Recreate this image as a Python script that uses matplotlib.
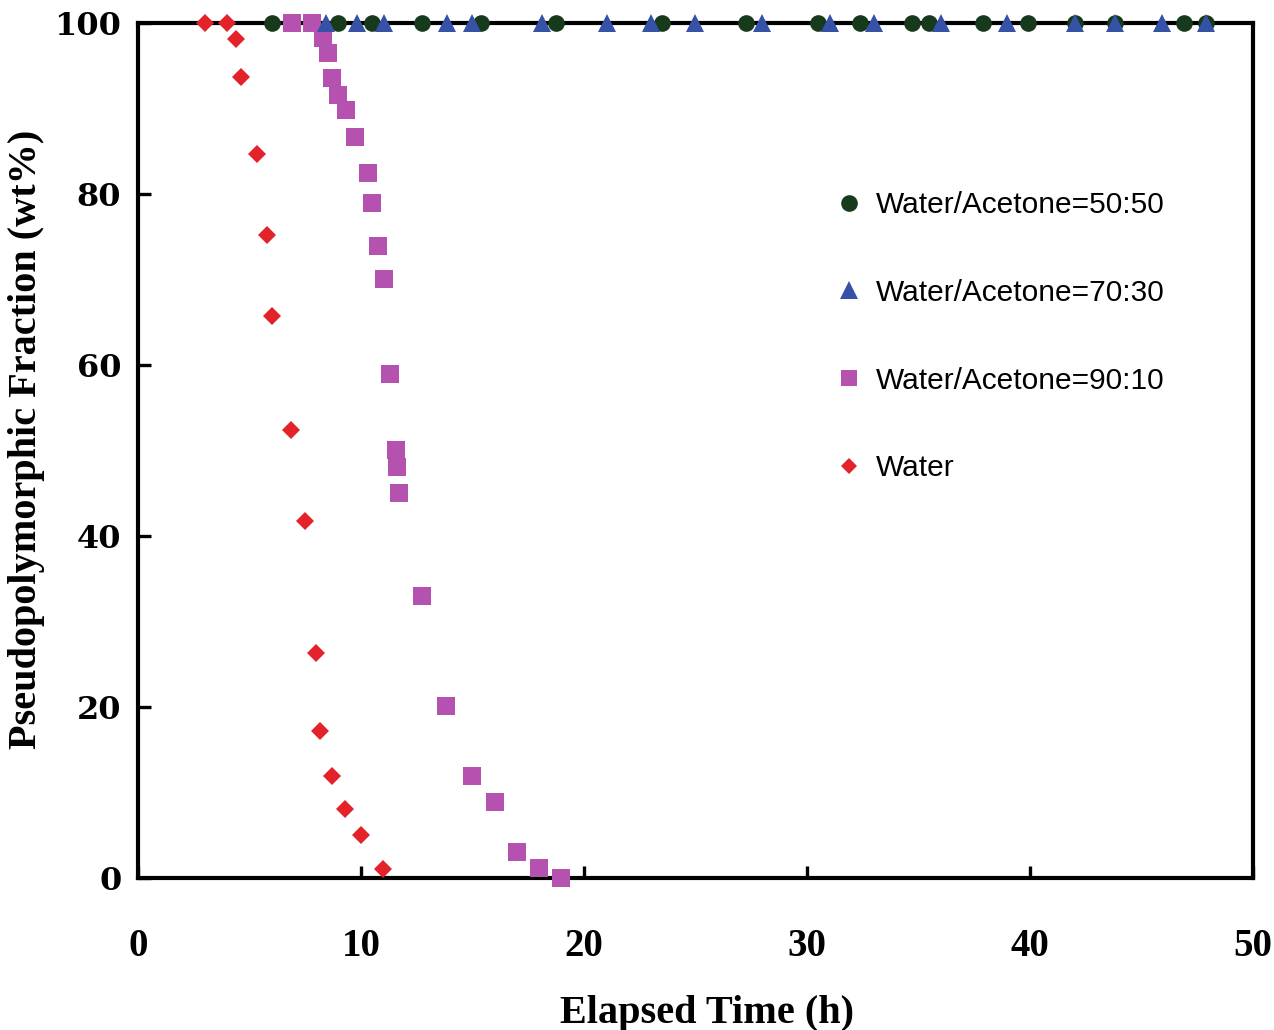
import matplotlib
matplotlib.use("Agg")
import matplotlib.pyplot as plt
from matplotlib.lines import Line2D

# Elapsed time (h) and pseudopolymorphic fraction (wt%) for each solvent
t_5050 = [6.0, 8.95, 10.5, 12.75, 15.4, 18.75, 23.5, 27.25, 30.5, 32.4,
          34.7, 35.45, 37.9, 39.9, 42.0, 43.8, 46.9, 47.9]
f_5050 = [100] * len(t_5050)

t_7030 = [8.45, 9.8, 11.05, 13.85, 15.0, 18.1, 21.05, 23.0, 25.0, 28.0,
          31.05, 33.0, 36.0, 38.95, 42.0, 43.8, 45.9, 47.9]
f_7030 = [100] * len(t_7030)

t_9010 = [6.9, 7.8, 8.3, 8.5, 8.7, 8.95, 9.35, 9.75, 10.3, 10.5, 10.75,
          11.05, 11.3, 11.55, 11.6, 11.7, 12.75, 13.8, 15.0, 16.0, 17.0,
          18.0, 18.95]
f_9010 = [100, 100, 98.2, 96.4, 93.5, 91.5, 89.8, 86.6, 82.4, 78.9, 73.9,
          70.0, 58.9, 50.0, 48.0, 45.0, 32.9, 20.1, 11.9, 8.8, 3.0, 1.1, 0.0]

t_water = [3.0, 4.0, 4.4, 4.6, 5.35, 5.8, 6.0, 6.85, 7.5, 8.0, 8.15, 8.7,
           9.3, 10.0, 11.0]
f_water = [100, 100, 98.1, 93.7, 84.6, 75.2, 65.7, 52.3, 41.7, 26.3, 17.2,
           11.9, 8.0, 5.0, 1.0]

labels = ["Water/Acetone=50:50", "Water/Acetone=70:30",
          "Water/Acetone=90:10", "Water"]
x_ticks = [0, 10, 20, 30, 40, 50]
y_ticks = [0, 20, 40, 60, 80, 100]

c_5050 = "#173a1c"
c_7030 = "#3552a6"
c_9010 = "#b552b0"
c_water = "#e4222a"

fig = plt.figure(figsize=(12.74, 10.30), dpi=100)
ax = fig.add_axes([0.1083, 0.148, 0.8752, 0.830])

common = dict(linestyle="none", markeredgewidth=0, clip_on=False)
ax.plot(t_water, f_water, marker="D", markersize=9.5, color=c_water,
        zorder=3, **common)
ax.plot(t_9010, f_9010, marker="s", markersize=12.5, color=c_9010,
        zorder=4, **common)
ax.plot(t_5050, f_5050, marker="o", markersize=12, color=c_5050,
        zorder=5, **common)
ax.plot(t_7030, f_7030, marker="^", markersize=13, color=c_7030,
        zorder=6, **common)

ax.set_xlim(0, 50)
ax.set_ylim(0, 100)
ax.set_xticks(x_ticks)
ax.set_yticks(y_ticks)

for s in ax.spines.values():
    s.set_linewidth(3)
    s.set_zorder(2)

ax.tick_params(axis="both", direction="in", length=9, width=2.4,
               color="black")
ax.tick_params(axis="x", pad=36)
ax.tick_params(axis="y", pad=12)
for lab in ax.get_xticklabels():
    lab.set_fontfamily("Liberation Serif")
    lab.set_fontweight("bold")
    lab.set_fontsize(28)
for lab in ax.get_yticklabels():
    lab.set_fontfamily("DejaVu Serif")
    lab.set_fontweight("bold")
    lab.set_fontsize(23)

ax.set_xlabel("Elapsed Time (h)", family="Liberation Serif",
              fontweight="bold", fontsize=29)
ax.xaxis.set_label_coords(0.51, -0.137)
ax.set_ylabel("Pseudopolymorphic Fraction (wt%)", family="Liberation Serif",
              fontweight="bold", fontsize=29)
ax.yaxis.set_label_coords(-0.083, 0.512)

handles = [
    Line2D([], [], linestyle="none", marker="o", markersize=12,
           markeredgewidth=0, color=c_5050),
    Line2D([], [], linestyle="none", marker="^", markersize=13,
           markeredgewidth=0, color=c_7030),
    Line2D([], [], linestyle="none", marker="s", markersize=11,
           markeredgewidth=0, color=c_9010),
    Line2D([], [], linestyle="none", marker="D", markersize=8.5,
           markeredgewidth=0, color=c_water),
]
ax.legend(handles, labels, loc="upper left", bbox_to_anchor=(0.627, 0.803),
          frameon=False, prop={"family": "Liberation Sans", "size": 21.5},
          handlelength=0.8, handletextpad=0.5, labelspacing=2.0,
          borderaxespad=0, borderpad=0)

fig.savefig("out.png", dpi=100, facecolor="white")
